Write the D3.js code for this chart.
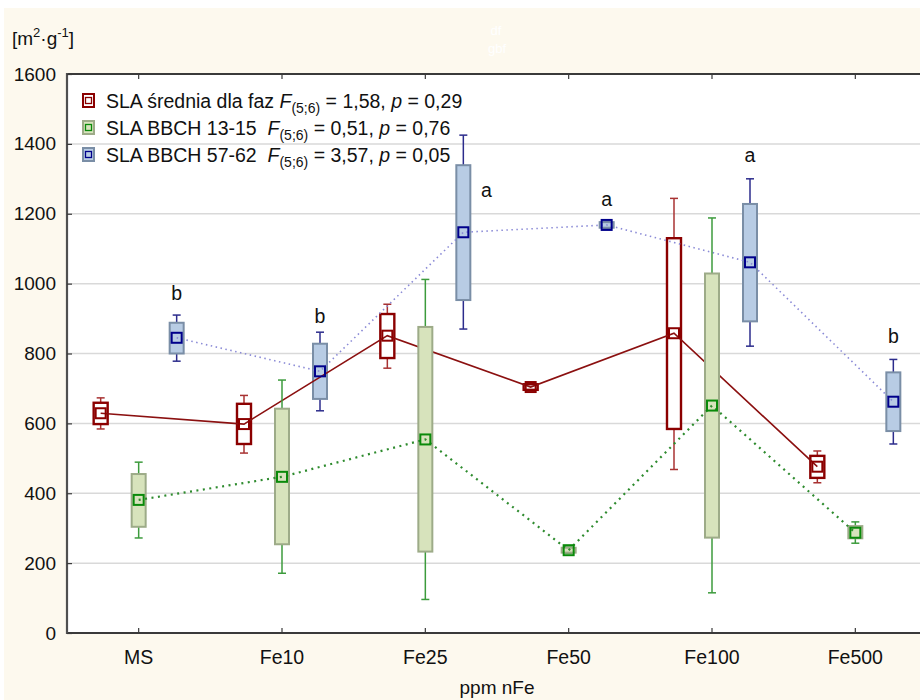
<!DOCTYPE html>
<html>
<head>
<meta charset="utf-8">
<script src="https://cdn.jsdelivr.net/npm/d3@7"></script>
<style>
  html, body { margin: 0; padding: 0; background: #ffffff; }
  svg { display: block; font-family: "Liberation Sans", Arial, sans-serif; }
  text { white-space: pre; }
</style>
</head>
<body>
<svg id="chart" width="920" height="700"></svg>
<script>
// Treatments on the x axis
const categories = ["MS", "Fe10", "Fe25", "Fe50", "Fe100", "Fe500"];
const yTicks = [0, 200, 400, 600, 800, 1000, 1200, 1400, 1600];

// SLA średnia dla faz
const meanAvg      = [629, 598, 851, 704, 858, 476];
const boxHighAvg   = [659, 656, 913, 712, 1130, 507];
const boxLowAvg    = [598, 541, 787, 696, 584, 444];
const whiskHighAvg = [673, 680, 941, 714, 1244, 521];
const whiskLowAvg  = [584, 515, 758, 694, 468, 430];

// SLA BBCH 13-15
const meanEarly      = [381, 447, 554, 237, 651, 287];
const boxHighEarly   = [455, 642, 876, 244, 1029, 306];
const boxLowEarly    = [304, 254, 233, 230, 273, 271];
const whiskHighEarly = [489, 724, 1012, 246, 1188, 318];
const whiskLowEarly  = [272, 171, 96, 228, 115, 257];

// SLA BBCH 57-62
const meanLate      = [845, 749, 1147, 1168, 1061, 662];
const boxHighLate   = [888, 828, 1339, 1176, 1228, 746];
const boxLowLate    = [800, 670, 953, 1160, 892, 578];
const whiskHighLate = [910, 861, 1425, 1178, 1300, 783];
const whiskLowLate  = [778, 636, 870, 1158, 821, 541];

// homogeneous groups for BBCH 57-62
const lettersLate = ["b", "b", "a", "a", "a", "b"];

const series = [
  { key: "avg", mean: meanAvg, bh: boxHighAvg, bl: boxLowAvg, wh: whiskHighAvg, wl: whiskLowAvg,
    fill: "#ffffff", boxStroke: "#8b0000", whisk: "#a83232", marker: "#8b0000",
    line: "#8b1010", dash: null, lineWidth: 1.6, boxWidth: 2.4 },
  { key: "early", mean: meanEarly, bh: boxHighEarly, bl: boxLowEarly, wh: whiskHighEarly, wl: whiskLowEarly,
    fill: "#d7e3bc", boxStroke: "#9dab88", whisk: "#3c9b3c", marker: "#0a8a0a",
    line: "#2e8b2e", dash: "2,4.5", lineWidth: 2.2, boxWidth: 2 },
  { key: "late", mean: meanLate, bh: boxHighLate, bl: boxLowLate, wh: whiskHighLate, wl: whiskLowLate,
    fill: "#b8cce4", boxStroke: "#7a8ea6", whisk: "#2c2c8c", marker: "#00008b",
    line: "#8a8ad6", dash: "1.5,3.5", lineWidth: 1.6, boxWidth: 2 }
];
const byKey = Object.fromEntries(series.map(s => [s.key, s]));

const svg = d3.select("#chart");
const W = 920, H = 700;
const plot = { left: 67, right: 927, top: 74, bottom: 633 };

// page and plot backgrounds
svg.append("rect").attr("x", 4).attr("y", 8).attr("width", W - 4).attr("height", H - 8).attr("fill", "#fdf9ee");
svg.append("rect").attr("x", plot.left).attr("y", plot.top)
  .attr("width", plot.right - plot.left).attr("height", plot.bottom - plot.top).attr("fill", "#ffffff");

const x = d3.scaleBand().domain(categories).range([plot.left, plot.right]).padding(0);
const sub = d3.scaleBand().domain(["avg", "early", "late"]).range([-57, 57]).padding(0);
const y = d3.scaleLinear().domain([0, 1600]).range([plot.bottom, plot.top]);
const cx = (cat, key) => x(cat) + x.bandwidth() / 2 + sub(key) + sub.bandwidth() / 2;

// horizontal grid
svg.append("g").selectAll("line")
  .data(yTicks.filter(t => t > 0 && t < 1600))
  .join("line")
  .attr("x1", plot.left).attr("x2", plot.right)
  .attr("y1", d => y(d)).attr("y2", d => y(d))
  .attr("stroke", "#d9d9d9").attr("stroke-width", 1.5);

// boxes and whiskers of one series
function drawBoxes(s) {
  const g = svg.append("g");
  const idx = d3.range(categories.length);
  const bw = 14, cap = 8;
  g.selectAll("line.w").data(idx).join("line")
    .attr("x1", i => cx(categories[i], s.key)).attr("x2", i => cx(categories[i], s.key))
    .attr("y1", i => y(s.wh[i])).attr("y2", i => y(s.wl[i]))
    .attr("stroke", s.whisk).attr("stroke-width", 1.5);
  g.selectAll("line.ct").data(idx).join("line")
    .attr("x1", i => cx(categories[i], s.key) - cap / 2).attr("x2", i => cx(categories[i], s.key) + cap / 2)
    .attr("y1", i => y(s.wh[i])).attr("y2", i => y(s.wh[i]))
    .attr("stroke", s.whisk).attr("stroke-width", 1.5);
  g.selectAll("line.cb").data(idx).join("line")
    .attr("x1", i => cx(categories[i], s.key) - cap / 2).attr("x2", i => cx(categories[i], s.key) + cap / 2)
    .attr("y1", i => y(s.wl[i])).attr("y2", i => y(s.wl[i]))
    .attr("stroke", s.whisk).attr("stroke-width", 1.5);
  g.selectAll("rect").data(idx).join("rect")
    .attr("x", i => cx(categories[i], s.key) - bw / 2).attr("width", bw)
    .attr("y", i => y(s.bh[i])).attr("height", i => y(s.bl[i]) - y(s.bh[i]))
    .attr("fill", s.fill).attr("stroke", s.boxStroke).attr("stroke-width", s.boxWidth);
}

// line joining the means of one series
function drawLine(s) {
  const line = d3.line().x(i => cx(categories[i], s.key)).y(i => y(s.mean[i]));
  svg.append("path").datum(d3.range(categories.length))
    .attr("d", line).attr("fill", "none")
    .attr("stroke", s.line).attr("stroke-width", s.lineWidth)
    .attr("stroke-dasharray", s.dash);
}

function drawMarkers(s) {
  const m = 10;
  svg.append("g").selectAll("rect").data(d3.range(categories.length)).join("rect")
    .attr("x", i => cx(categories[i], s.key) - m / 2).attr("y", i => y(s.mean[i]) - m / 2)
    .attr("width", m).attr("height", m)
    .attr("fill", "none").attr("stroke", s.marker).attr("stroke-width", 2);
}

drawBoxes(byKey.late);
drawBoxes(byKey.avg);
drawLine(byKey.avg);
drawLine(byKey.late);
drawBoxes(byKey.early);
drawLine(byKey.early);
series.forEach(drawMarkers);

// group letters above the BBCH 57-62 whiskers
const letterNudge = [[0, -15], [0, -9], [23, 62], [0, -15], [0, -17], [0, -16]];
svg.append("g").selectAll("text").data(lettersLate).join("text")
  .attr("x", (d, i) => cx(categories[i], "late") + letterNudge[i][0])
  .attr("y", (d, i) => y(whiskHighLate[i]) + letterNudge[i][1])
  .attr("text-anchor", "middle").attr("font-size", 19.5).attr("fill", "#111")
  .text(d => d);

// frame: top border, left axis, bottom axis
const axisColor = "#3a3a3a";
svg.append("line").attr("x1", plot.left).attr("x2", plot.right).attr("y1", plot.top).attr("y2", plot.top)
  .attr("stroke", axisColor).attr("stroke-width", 2);
svg.append("line").attr("x1", plot.left).attr("x2", plot.right).attr("y1", plot.bottom).attr("y2", plot.bottom)
  .attr("stroke", axisColor).attr("stroke-width", 2);
svg.append("line").attr("x1", plot.left).attr("x2", plot.left).attr("y1", plot.top - 1).attr("y2", plot.bottom + 1)
  .attr("stroke", "#505050").attr("stroke-width", 2.2);

// inward ticks
const xAxisBottom = d3.axisBottom(x).tickSize(-5).tickFormat("");
const gxb = svg.append("g").attr("transform", `translate(0,${plot.bottom})`).call(xAxisBottom);
gxb.select(".domain").remove();
gxb.selectAll("line").attr("stroke", axisColor).attr("stroke-width", 1.2);
const xAxisTop = d3.axisTop(x).tickSize(-5).tickFormat("");
const gxt = svg.append("g").attr("transform", `translate(0,${plot.top})`).call(xAxisTop);
gxt.select(".domain").remove();
gxt.selectAll("line").attr("stroke", axisColor).attr("stroke-width", 1.2);
const yAxis = d3.axisLeft(y).tickValues(yTicks).tickSize(-5).tickPadding(11).tickFormat(d3.format("d"));
const gy = svg.append("g").attr("transform", `translate(${plot.left},0)`).call(yAxis);
gy.select(".domain").remove();
gy.selectAll("line").attr("stroke", axisColor).attr("stroke-width", 1.2);
gy.selectAll("text").attr("font-size", 19).attr("fill", "#111")
  .attr("font-family", "'Liberation Sans', Arial, sans-serif");

// category labels
svg.append("g").selectAll("text").data(categories).join("text")
  .attr("x", d => x(d) + x.bandwidth() / 2).attr("y", 664)
  .attr("text-anchor", "middle").attr("font-size", 19.5).attr("fill", "#111")
  .text(d => d);
svg.append("text").attr("x", (plot.left + plot.right) / 2).attr("y", 694)
  .attr("text-anchor", "middle").attr("font-size", 19).attr("fill", "#111").text("ppm nFe");

// unit label
const unit = svg.append("text").attr("x", 12).attr("y", 45).attr("font-size", 19).attr("fill", "#111");
unit.append("tspan").text("[m");
unit.append("tspan").attr("font-size", 13).attr("dy", -8).text("2");
unit.append("tspan").attr("dy", 8).text("·g");
unit.append("tspan").attr("font-size", 13).attr("dy", -8).text("-1");
unit.append("tspan").attr("dy", 8).text("]");

// faint header text
svg.append("text").attr("x", 496).attr("y", 35).attr("text-anchor", "middle")
  .attr("font-size", 13).attr("fill", "#ffffff").text("df");
svg.append("text").attr("x", 497).attr("y", 53).attr("text-anchor", "middle")
  .attr("font-size", 13).attr("fill", "#ffffff").text("gbf");

// legend
const legendRows = [
  { key: "avg", label: "SLA średnia dla faz ", f: "1,58", p: "0,29" },
  { key: "early", label: "SLA BBCH 13-15  ", f: "0,51", p: "0,76" },
  { key: "late", label: "SLA BBCH 57-62  ", f: "3,57", p: "0,05" }
];
const lg = svg.append("g");
legendRows.forEach((r, i) => {
  const s = byKey[r.key];
  const yb = 108 + i * 27;
  lg.append("rect").attr("x", 83).attr("y", yb - 14).attr("width", 11).attr("height", 13)
    .attr("fill", s.fill).attr("stroke", s.boxStroke).attr("stroke-width", 2);
  lg.append("rect").attr("x", 85.5).attr("y", yb - 10.5).attr("width", 6).attr("height", 6)
    .attr("fill", "none").attr("stroke", s.marker).attr("stroke-width", 1.3);
  const t = lg.append("text").attr("x", 106).attr("y", yb).attr("font-size", 19.5).attr("fill", "#111");
  t.append("tspan").text(r.label);
  t.append("tspan").attr("font-style", "italic").text("F");
  t.append("tspan").attr("font-size", 14).attr("dy", 5).text("(5;6)");
  t.append("tspan").attr("dy", -5).text(" = " + r.f + ", ");
  t.append("tspan").attr("font-style", "italic").text("p");
  t.append("tspan").text(" = " + r.p);
});
</script>
</body>
</html>
